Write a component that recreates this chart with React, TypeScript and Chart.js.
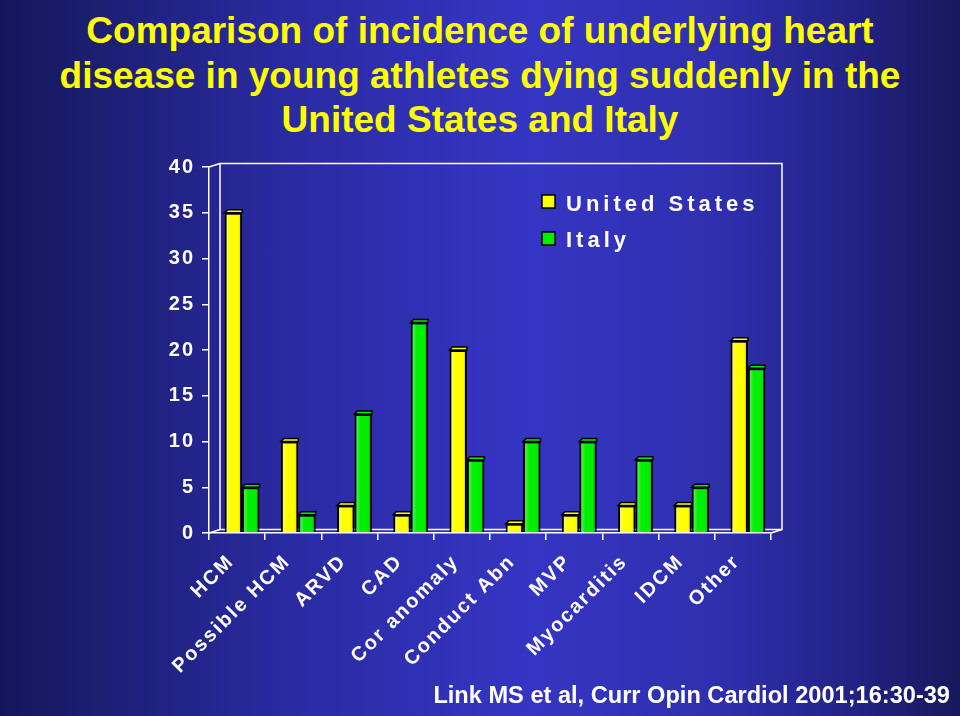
import React, { useEffect, useRef } from 'react';
import { Chart, registerables } from 'chart.js';

Chart.register(...registerables);

const CATEGORIES = ['HCM', 'Possible HCM', 'ARVD', 'CAD', 'Cor anomaly', 'Conduct Abn', 'MVP', 'Myocarditis', 'IDCM', 'Other'];
const US_VALUES = [35, 10, 3, 2, 20, 1, 2, 3, 3, 21];
const ITALY_VALUES = [5, 2, 13, 23, 8, 10, 10, 8, 5, 18];
const SERIES_NAMES = ['United States', 'Italy'];
const SERIES_COLORS = ['#ffff00', '#00ee00'];
const Y_MIN = 0;
const Y_MAX = 40;
const Y_STEP = 5;
const TITLE_LINES = [
  'Comparison of incidence of underlying heart',
  'disease in young athletes dying suddenly in the',
  'United States and Italy',
];
const SOURCE = 'Link MS et al, Curr Opin Cardiol 2001;16:30-39';

const FONT = '"Liberation Sans", Arial, Helvetica, sans-serif';
const DX = 11;
const DY = 3.5;
const BAR_SHIFT = 5;
const AXIS_SPACING = '2px';

const chart3dPlugin = {
  id: 'chart3d',
  beforeLayout(chart: any) {
    chart.ctx.letterSpacing = AXIS_SPACING;
  },
  afterLayout(chart: any) {
    const s = chart.scales.xb;
    if (s) {
      s.left += BAR_SHIFT;
      s.right += BAR_SHIFT;
      s.configure();
    }
  },
  beforeDraw(chart: any) {
    chart.ctx.letterSpacing = AXIS_SPACING;
  },
  beforeDatasetsDraw(chart: any) {
    const { ctx, chartArea: a } = chart;
    const L = a.left, R = a.right, T = a.top, B = a.bottom;
    ctx.save();
    ctx.strokeStyle = '#ffffff';
    ctx.lineWidth = 1.5;
    ctx.beginPath();
    ctx.moveTo(L, T);
    ctx.lineTo(L + DX, T - DY);
    ctx.lineTo(R + DX, T - DY);
    ctx.lineTo(R + DX, B - DY);
    ctx.lineTo(L + DX, B - DY);
    ctx.lineTo(L + DX, T - DY);
    ctx.moveTo(L, B);
    ctx.lineTo(L + DX, B - DY);
    ctx.moveTo(R, B);
    ctx.lineTo(R + DX, B - DY);
    ctx.stroke();
    ctx.restore();
  },
  afterDatasetsDraw(chart: any) {
    const ctx = chart.ctx;
    ctx.save();
    ctx.letterSpacing = '0px';
    for (let d = chart.data.datasets.length - 1; d >= 0; d--) {
      const meta = chart.getDatasetMeta(d);
      meta.data.forEach((el: any) => {
        const { x, y, base, width } = el.getProps(['x', 'y', 'base', 'width'], true);
        const l = x - width / 2;
        const r = x + width / 2;
        const g = ctx.createLinearGradient(l, 0, r, 0);
        g.addColorStop(0, 'rgba(255,255,255,0.45)');
        g.addColorStop(0.35, 'rgba(255,255,255,0.0)');
        g.addColorStop(0.75, 'rgba(0,0,0,0.0)');
        g.addColorStop(1, 'rgba(0,0,0,0.15)');
        ctx.fillStyle = g;
        ctx.fillRect(l + 2, y + 2, width - 4, base - y - 2);
        ctx.beginPath();
        ctx.moveTo(l, y);
        ctx.lineTo(l + 3, y - 3);
        ctx.lineTo(r, y - 3);
        ctx.lineTo(r, y);
        ctx.closePath();
        ctx.fillStyle = SERIES_COLORS[d];
        ctx.fill();
        ctx.strokeStyle = '#000';
        ctx.lineWidth = 1.5;
        ctx.stroke();
      });
    }
    ctx.restore();
  },
  afterDraw(chart: any) {
    const ctx = chart.ctx;
    ctx.save();
    ctx.letterSpacing = '4px';
    ctx.font = `bold 22px ${FONT}`;
    ctx.textBaseline = 'alphabetic';
    ctx.textAlign = 'left';
    const rows = [
      { sq: 195, base: 211 },
      { sq: 232, base: 247 },
    ];
    SERIES_NAMES.forEach((name, i) => {
      ctx.fillStyle = SERIES_COLORS[i];
      ctx.fillRect(542, rows[i].sq, 13, 13);
      ctx.strokeStyle = '#000';
      ctx.lineWidth = 1.5;
      ctx.strokeRect(542, rows[i].sq, 13, 13);
      ctx.fillStyle = '#ffffff';
      ctx.fillText(name, 566, rows[i].base);
    });
    ctx.restore();
  },
};

export default function App() {
  const ref = useRef<HTMLCanvasElement>(null);
  useEffect(() => {
    document.body.style.margin = '0';
    const tickFont = { family: FONT, weight: 'bold' as const, size: 20 };
    const chart = new Chart(ref.current as HTMLCanvasElement, {
      type: 'bar',
      data: {
        labels: CATEGORIES,
        datasets: [
          {
            label: SERIES_NAMES[0],
            data: US_VALUES,
            backgroundColor: SERIES_COLORS[0],
            borderColor: '#000000',
            borderWidth: 2,
            xAxisID: 'xb',
            categoryPercentage: 0.62,
            barPercentage: 1.0,
          },
          {
            label: SERIES_NAMES[1],
            data: ITALY_VALUES,
            backgroundColor: SERIES_COLORS[1],
            borderColor: '#000000',
            borderWidth: 2,
            xAxisID: 'xb',
            categoryPercentage: 0.62,
            barPercentage: 1.0,
          },
        ],
      },
      options: {
        responsive: false,
        animation: false,
        devicePixelRatio: 1,
        layout: { padding: { top: 167, right: 189, left: 0, bottom: 0 } },
        plugins: {
          legend: { display: false },
          title: { display: false },
          tooltip: { enabled: false },
        },
        scales: {
          x: {
            type: 'category',
            offset: true,
            grid: {
              display: true,
              drawOnChartArea: false,
              drawTicks: true,
              tickLength: 7,
              color: '#ffffff',
              lineWidth: 1.5,
              offset: true,
            },
            border: { display: true, color: '#ffffff', width: 1.5 },
            ticks: {
              color: '#ffffff',
              font: tickFont,
              maxRotation: 45,
              minRotation: 45,
              autoSkip: false,
              padding: 10,
              labelOffset: -6,
            },
            afterFit: (s: any) => {
              s.height = 183;
            },
          },
          xb: {
            type: 'category',
            display: false,
            offset: true,
            grid: { offset: true },
          },
          y: {
            min: Y_MIN,
            max: Y_MAX,
            grid: {
              display: true,
              drawOnChartArea: false,
              drawTicks: true,
              tickLength: 7,
              color: '#ffffff',
              lineWidth: 1.5,
            },
            border: { display: true, color: '#ffffff', width: 1.5 },
            ticks: {
              stepSize: Y_STEP,
              color: '#ffffff',
              font: tickFont,
              padding: 7,
            },
            afterFit: (s: any) => {
              s.width = 209;
            },
          },
        },
      },
      plugins: [chart3dPlugin],
    });
    return () => chart.destroy();
  }, []);

  return (
    <div
      style={{
        position: 'relative',
        width: 960,
        height: 716,
        overflow: 'hidden',
        background:
          'linear-gradient(90deg, #14165a 0%, #1c1e72 10%, #2a2aa2 30%, #3535c4 55%, #2f2fae 75%, #232388 88%, #18185c 100%)',
      }}
    >
      <div
        style={{
          position: 'absolute',
          top: 9,
          left: 0,
          width: 960,
          textAlign: 'center',
          color: '#ffff00',
          font: `bold 37px/44.5px ${FONT}`,
          whiteSpace: 'nowrap',
        }}
      >
        {TITLE_LINES.map((t, i) => (
          <div key={i}>{t}</div>
        ))}
      </div>
      <canvas ref={ref} width={960} height={716} style={{ position: 'absolute', left: 0, top: 0 }} />
      <div
        style={{
          position: 'absolute',
          right: 10,
          top: 681,
          color: '#ffffff',
          font: `bold 23.6px/28px ${FONT}`,
          whiteSpace: 'nowrap',
        }}
      >
        {SOURCE}
      </div>
    </div>
  );
}
